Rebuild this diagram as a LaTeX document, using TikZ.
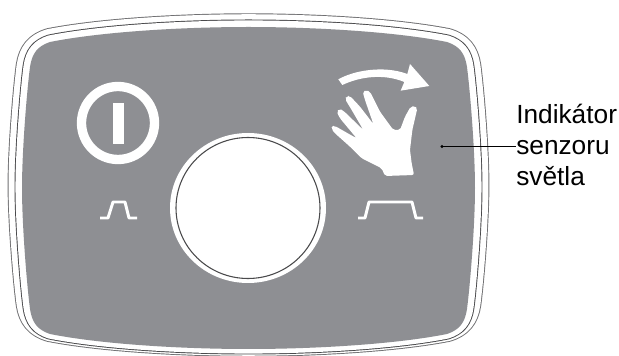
\documentclass[tikz,border=0pt]{standalone}
\usepackage{fontspec}
\setmainfont{Liberation Sans}
\definecolor{panelgray}{HTML}{8E8F93}
\definecolor{rimdark}{HTML}{4A4A4C}
\definecolor{rimlight}{HTML}{707072}
\def\panelpath{(22,188) .. controls (22,150) and (27,90) .. (30,67)
  .. controls (32,53) and (38,46) .. (50,42)
  .. controls (100,32) and (180,27) .. (248.5,27)
  .. controls (317,27) and (397,32) .. (447,42)
  .. controls (459,46) and (465,53) .. (467,67)
  .. controls (470,90) and (475,150) .. (475,188)
  .. controls (475,226) and (470,286) .. (467,309)
  .. controls (465,323) and (459,330) .. (447,334)
  .. controls (397,344) and (317,349) .. (248.5,349)
  .. controls (180,349) and (100,344) .. (50,334)
  .. controls (38,330) and (32,323) .. (30,309)
  .. controls (27,286) and (22,226) .. (22,188) -- cycle}
\tikzset{
  rim/.style={line join=round},
  pulse/.style={draw=white,line width=2.2pt,line join=round},
  leader/.style={draw=black,line width=1pt}
}
\begin{document}
\begin{tikzpicture}[x=0.75pt,y=-0.75pt]
\useasboundingbox (0,0) rectangle (619,356);
\fill[white] (0,0) rectangle (619,356);
% rim as nested strokes
\begin{scope}
\clip (0,0) rectangle (619,356);
\begin{scope}[shift={(0,185)},yscale=0.977,shift={(0,-188)}]
\draw[rim,rimlight,line width=21.6pt] \panelpath;
\draw[rim,white,line width=20.2pt] \panelpath;
\end{scope}
\begin{scope}[shift={(0,187)},yscale=0.994,shift={(0,-188)}]
\draw[rim,rimdark,line width=11.2pt] \panelpath;
\draw[rim,white,line width=9.8pt] \panelpath;
\end{scope}
\end{scope}
\fill[panelgray] \panelpath;
% central button
\fill[white] (248,208) ellipse [x radius=78,y radius=75];
\draw[rimdark,line width=0.8pt] (248,208) ellipse [x radius=72,y radius=70.5];
% power symbol
\draw[white,line width=7pt] (118,123) circle (36.5);
\fill[white] (113,103) rectangle (124,144);
% pulses
\draw[pulse] (100,218) -- (108,218) -- (113,202) -- (125,202) -- (129,218) -- (137,218);
\draw[pulse] (358,218) -- (365,218) -- (369,202) -- (412,202) -- (416,218) -- (423,218);
% hand
\begin{scope}[shift={(310,50)},x=0.25pt,y=-0.25pt]
\fill[white,rounded corners=1.5pt] (225,378) -- (312,375) -- (305,340) -- (300,300) -- (307,240) -- (322,175) -- (315,168) -- (302,170) -- (285,200) -- (270,240) -- (250,240) -- (210,185) -- (180,125) -- (170,120) -- (158,125) -- (165,150) -- (190,222) -- (150,170) -- (120,138) -- (110,138) -- (105,147) -- (125,180) -- (160,240) -- (100,182) -- (88,176) -- (80,185) -- (90,205) -- (140,265) -- (75,228) -- (65,228) -- (65,238) -- (75,250) -- (120,290) -- (155,325) -- (215,355) -- cycle;
\fill[white] (85,88) .. controls (130,62) and (220,45) .. (292,72) -- (300,42) -- (358,108) -- (272,122) -- (283,96) .. controls (220,70) and (150,80) .. (97,105) -- cycle;
\end{scope}
% label
\coordinate (sensor) at (442,146.5);
\node[anchor=west,inner sep=0pt,align=left,font=\fontsize{19.7pt}{23pt}\selectfont] (label) at (516,145) {Indikátor\\senzoru\\světla};
\fill[black] (sensor) circle (1.6);
\draw[leader] (sensor) -- (label.west |- sensor);
\end{tikzpicture}
\end{document}
